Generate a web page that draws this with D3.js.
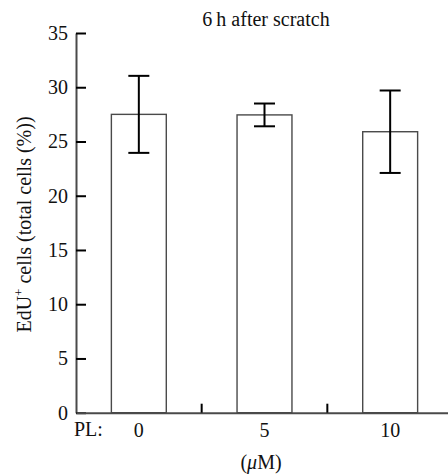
<!DOCTYPE html>
<html>
<head>
<meta charset="utf-8">
<script src="https://cdn.jsdelivr.net/npm/d3@7"></script>
<style>
  body { margin: 0; background: #fff; }
  text { font-family: 'Liberation Serif'; }
</style>
</head>
<body>
<svg id="chart" width="448" height="476" font-family="Liberation Serif"></svg>
<script>
// chart data
var categories = ["0", "5", "10"];
var means = [27.5, 27.45, 25.9];
var errors = [3.55, 1.05, 3.8];
var yTicks = [0, 5, 10, 15, 20, 25, 30, 35];

function drawChart(){
    var svg = d3.select("#chart");

    var left = 76, right = 453, bottom = 412.7, top = 33;

    var y = d3.scaleLinear()
        .domain([0, 35])
        .range([bottom, top]);

    // bars sit in the middle of each category band
    var x = d3.scaleBand()
        .domain(categories)
        .range([left, right])
        .paddingInner(0.563)
        .paddingOuter(0.2815);

    // plain bands for the separator ticks
    var xb = d3.scaleBand()
        .domain(categories)
        .range([left, right]);

    // bars
    svg.append("g").selectAll("rect")
        .data(categories)
        .join("rect")
        .attr("x", function(d){ return x(d); })
        .attr("y", function(d, i){ return y(means[i]); })
        .attr("width", x.bandwidth())
        .attr("height", function(d, i){ return bottom - y(means[i]); })
        .attr("fill", "#fff")
        .attr("stroke", "#4a4a4a")
        .attr("stroke-width", 1.4);

    // error bars
    var eb = svg.append("g")
        .attr("stroke", "#000")
        .attr("stroke-width", 2);
    categories.forEach(function(d, i){
        var cx = x(d) + x.bandwidth() / 2;
        var hi = y(means[i] + errors[i]), lo = y(means[i] - errors[i]);
        eb.append("line").attr("x1", cx).attr("x2", cx).attr("y1", hi).attr("y2", lo);
        eb.append("line").attr("x1", cx - 10.5).attr("x2", cx + 10.5).attr("y1", hi).attr("y2", hi);
        eb.append("line").attr("x1", cx - 10.5).attr("x2", cx + 10.5).attr("y1", lo).attr("y2", lo);
    });

    // y axis with inward ticks
    var yAxis = d3.axisLeft(y)
        .tickValues(yTicks)
        .tickSizeInner(-10)
        .tickSizeOuter(0)
        .tickPadding(8);
    var ya = svg.append("g")
        .attr("transform", "translate(" + left + ",0)")
        .call(yAxis)
        .attr("font-family", null)
        .attr("font-size", null);
    ya.select(".domain").attr("stroke", "#4a4a4a").attr("stroke-width", 2);
    ya.selectAll(".tick line").attr("stroke", "#000").attr("stroke-width", 2);
    ya.selectAll(".tick text")
        .style("font-size", "20px")
        .attr("fill", "#111");

    // x axis
    var xAxis = d3.axisBottom(x)
        .tickSize(0)
        .tickPadding(10);
    var xa = svg.append("g")
        .attr("transform", "translate(0," + bottom + ")")
        .call(xAxis)
        .attr("font-family", null)
        .attr("font-size", null);
    xa.select(".domain").attr("stroke", "#4a4a4a").attr("stroke-width", 2);
    xa.selectAll(".tick text")
        .style("font-size", "20px")
        .attr("fill", "#111");

    // separator ticks between categories
    svg.append("g").selectAll("line")
        .data(categories.slice(1))
        .join("line")
        .attr("x1", function(d){ return xb(d); })
        .attr("x2", function(d){ return xb(d); })
        .attr("y1", bottom)
        .attr("y2", bottom - 9)
        .attr("stroke", "#000")
        .attr("stroke-width", 2);

    // texts
    svg.append("text")
        .attr("x", 74).attr("y", 436)
        .style("font-size", "20px")
        .attr("fill", "#111")
        .text("PL:");

    var unit = svg.append("text")
        .attr("x", 261).attr("y", 469)
        .attr("text-anchor", "middle")
        .style("font-size", "20px")
        .attr("fill", "#111");
    unit.append("tspan").text("(");
    unit.append("tspan").style("font-style", "italic").text("\u03bc");
    unit.append("tspan").text("M)");

    svg.append("text")
        .attr("x", 266).attr("y", 25.5)
        .attr("text-anchor", "middle")
        .style("font-size", "20px")
        .attr("fill", "#111")
        .text("6\u2009h after scratch");

    var yl = svg.append("text")
        .attr("transform", "translate(31,224.5) rotate(-90)")
        .attr("text-anchor", "middle")
        .style("font-size", "20px")
        .attr("fill", "#111");
    yl.append("tspan").text("EdU");
    yl.append("tspan").style("font-size", "13px").attr("dy", -8).text("+");
    yl.append("tspan").attr("dy", 8).text(" cells (total cells (%))");
};

drawChart();
</script>
</body>
</html>
